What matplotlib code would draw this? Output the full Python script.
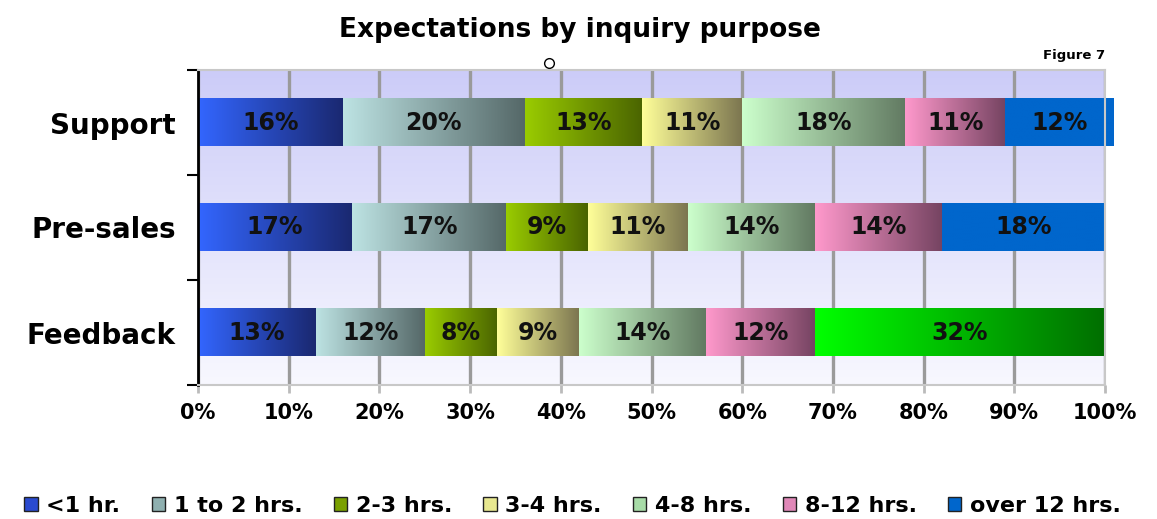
import numpy as np
import matplotlib.pyplot as plt
from matplotlib.colors import LinearSegmentedColormap, to_rgb
from matplotlib.patches import Patch
from matplotlib.lines import Line2D

categories = ['Support', 'Pre-sales', 'Feedback']
series = ['<1 hr.', '1 to 2 hrs.', '2-3 hrs.', '3-4 hrs.', '4-8 hrs.', '8-12 hrs.', 'over 12 hrs.']
values = {
    '<1 hr.':       [16, 17, 13],
    '1 to 2 hrs.':  [20, 17, 12],
    '2-3 hrs.':     [13, 9, 8],
    '3-4 hrs.':     [11, 11, 9],
    '4-8 hrs.':     [18, 14, 14],
    '8-12 hrs.':    [11, 14, 12],
    'over 12 hrs.': [12, 18, 32],
}
xticks = [0, 10, 20, 30, 40, 50, 60, 70, 80, 90, 100]

# gradient start/end colours per series (left -> right)
grad = {
    '<1 hr.':       ('#3366ff', '#1a2870'),
    '1 to 2 hrs.':  ('#bde3e3', '#556868'),
    '2-3 hrs.':     ('#9acc00', '#4a6400'),
    '3-4 hrs.':     ('#ffff99', '#7c7650'),
    '4-8 hrs.':     ('#ccffcc', '#627a62'),
    '8-12 hrs.':    ('#ff99cc', '#764462'),
    'over 12 hrs.': ('#0066cc', '#0066cc'),
}
# Feedback's last segment is drawn green in the original
special = {('over 12 hrs.', 2): ('#00ff00', '#006e00')}
legend_cols = {
    '<1 hr.': '#2a4ad0', '1 to 2 hrs.': '#8fb0b0', '2-3 hrs.': '#7aa000',
    '3-4 hrs.': '#e8e890', '4-8 hrs.': '#a8dca8', '8-12 hrs.': '#e088b8',
    'over 12 hrs.': '#0066cc',
}

fig = plt.figure(figsize=(11.57, 5.19), dpi=100)
ax = fig.add_axes([198/1157, 1 - 385/519, 907/1157, 315/519])

# background gradient
bg = LinearSegmentedColormap.from_list('bg', ['#f8f8ff', '#ccccf8'])
ax.imshow(np.linspace(0, 1, 256).reshape(-1, 1)[::-1], cmap=bg, aspect='auto',
          extent=(0, 1, 0, 1), transform=ax.transAxes, zorder=0)

y = np.arange(len(categories))
left = np.zeros(len(categories))
h = 0.45
for s in series:
    vals = np.array(values[s], dtype=float)
    bars = ax.barh(y, vals, left=left, height=h, color='none', zorder=2, clip_on=False)
    for i, b in enumerate(bars):
        x0, y0 = b.get_x(), b.get_y()
        w, bh = b.get_width(), b.get_height()
        c0, c1 = special.get((s, i), grad[s])
        cmap = LinearSegmentedColormap.from_list('g', [to_rgb(c0), to_rgb(c1)])
        ax.imshow(np.linspace(0, 1, 256).reshape(1, -1), cmap=cmap, aspect='auto',
                  extent=(x0, x0 + w, y0 + bh, y0), zorder=2, interpolation='bilinear',
                  clip_on=False)
        ax.text(x0 + w / 2, y0 + bh / 2, f'{int(vals[i])}%', ha='center', va='center',
                fontsize=17, fontweight='bold', color='#111111', zorder=4)
    left += vals

ax.set_xlim(0, 100)
ax.set_ylim(len(categories) - 0.5, -0.5)
ax.set_xticks(xticks)
ax.set_xticklabels([f'{t}%' for t in xticks], fontsize=15, fontweight='bold')
ax.grid(axis='x', color='#9a9a9a', linewidth=2.4, zorder=1)
ax.set_axisbelow(True)
ax.set_yticks(y)
ax.set_yticklabels(categories, fontsize=20, fontweight='bold')
ax.set_yticks(np.arange(-0.5, len(categories)), minor=True)
ax.tick_params(axis='y', which='major', length=0, pad=16)
ax.tick_params(axis='y', which='minor', length=8, width=1.5, color='black')
ax.tick_params(axis='x', length=6, width=2, color='#bbbbbb', pad=7)
for side in ['top', 'right', 'bottom']:
    ax.spines[side].set_color('#c8c8c8')
    ax.spines[side].set_linewidth(1.5)
ax.spines['left'].set_color('black')
ax.spines['left'].set_linewidth(2)

fig.text(580/1157, 1 - 30/519, 'Expectations by inquiry purpose', ha='center', va='center',
         fontsize=19, fontweight='bold')
fig.text(1105/1157, 1 - 55/519, 'Figure 7', ha='right', va='center', fontsize=9.5, fontweight='bold')
fig.add_artist(Line2D([549/1157], [1 - 63/519], marker='o', markersize=7, markerfacecolor='white',
                      markeredgecolor='black', linestyle='none', transform=fig.transFigure))

handles = [Patch(facecolor=legend_cols[s], edgecolor='#222222', linewidth=1) for s in series]
fig.legend(handles, series, loc='center', bbox_to_anchor=(0.495, 1 - 506/519), ncol=7,
           frameon=False, prop={'size': 16, 'weight': 'bold'}, handlelength=0.6,
           handleheight=0.6, handletextpad=0.4, columnspacing=1.4)

fig.savefig('out.png', dpi=100)
